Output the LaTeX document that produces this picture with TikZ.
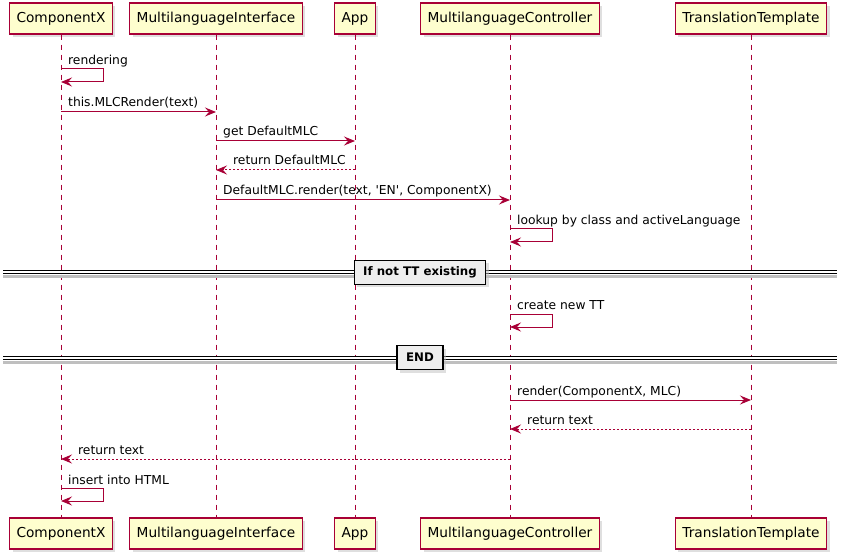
\documentclass[tikz,border=0pt]{standalone}
\usepackage{fontspec}
\setmainfont{DejaVu Sans}
\usepackage{tikz}
\usetikzlibrary{positioning, arrows.meta, shadows}

\definecolor{umlred}{HTML}{A80036}
\definecolor{umlfill}{HTML}{FEFECE}
\definecolor{divfill}{HTML}{EEEEEE}

\tikzset{
    actor/.style={draw=umlred, line width=1.4bp, fill=umlfill, minimum height=31bp,
        inner xsep=7bp, font=\fontsize{13.7bp}{16bp}\selectfont,
        drop shadow={shadow xshift=3bp, shadow yshift=-3bp, fill=black!25}},
    life/.style={draw=umlred, line width=0.8bp, dash pattern=on 5bp off 5bp},
    msg/.style={draw=umlred, line width=1bp, -{Stealth[length=11bp, width=9bp, inset=4bp]}},
    ret/.style={msg, dash pattern=on 2bp off 2bp},
    lbl/.style={anchor=base west, inner sep=0pt, font=\fontsize{12.3bp}{14bp}\selectfont},
    divbox/.style={draw=black, line width=1.4bp, fill=divfill, minimum height=24bp,
        inner xsep=9bp, font=\bfseries\fontsize{11.8bp}{14bp}\selectfont,
        drop shadow={shadow xshift=3bp, shadow yshift=-3bp, fill=black!25}},
    divline/.style={draw=black, line width=1bp, double=white, double distance=2bp},
    divshade/.style={draw=black!25, line width=3bp}
}

\begin{document}
\begin{tikzpicture}[x=1bp, y=-1bp]
        \useasboundingbox (0,0) rectangle (848,559);
        % participants
        \node[actor] (cx)  at (61,18.5)  {ComponentX};
        \node[actor] (mi)  at (216,18.5) {MultilanguageInterface};
        \node[actor] (app) at (355,18.5) {App};
        \node[actor] (mc)  at (510,18.5) {MultilanguageController};
        \node[actor] (tt)  at (751,18.5) {TranslationTemplate};
        \node[actor] (cxb)  at (61,533.5)  {ComponentX};
        \node[actor] (mib)  at (216,533.5) {MultilanguageInterface};
        \node[actor] (appb) at (355,533.5) {App};
        \node[actor] (mcb)  at (510,533.5) {MultilanguageController};
        \node[actor] (ttb)  at (751,533.5) {TranslationTemplate};
        \draw[life] (cx) -- (cxb);
        \draw[life] (mi) -- (mib);
        \draw[life] (app) -- (appb);
        \draw[life] (mc) -- (mcb);
        \draw[life] (tt) -- (ttb);
        % rows
        \coordinate (r1) at (0,69);
        \coordinate (r2) at (0,112);
        \coordinate (r3) at (0,141);
        \coordinate (r4) at (0,170);
        \coordinate (r5) at (0,200);
        \coordinate (r6) at (0,229);
        \coordinate (r8) at (0,314);
        \coordinate (r10) at (0,400);
        \coordinate (r11) at (0,429);
        \coordinate (r12) at (0,459);
        \coordinate (r13) at (0,488);
        % messages
        \draw[msg] (cx |- r1) -- ++(42,0) -- ++(0,13) -- ++(-42,0);
        \node[lbl] (m1) at ([xshift=7bp, yshift=4bp]cx |- r1) {rendering};
        \draw[msg] (cx |- r2) -- (mi |- r2);
        \node[lbl] (m2) at ([xshift=7bp, yshift=5bp]cx |- r2) {this.MLCRender(text)};
        \draw[msg] (mi |- r3) -- (app |- r3);
        \node[lbl] (m3) at ([xshift=7bp, yshift=5bp]mi |- r3) {get DefaultMLC};
        \draw[ret] (app |- r4) -- (mi |- r4);
        \node[lbl] (m4) at ([xshift=17bp, yshift=5bp]mi |- r4) {return DefaultMLC};
        \draw[msg] (mi |- r5) -- (mc |- r5);
        \node[lbl] (m5) at ([xshift=7bp, yshift=5bp]mi |- r5) {DefaultMLC.render(text, \textquotesingle EN\textquotesingle, ComponentX)};
        \draw[msg] (mc |- r6) -- ++(42,0) -- ++(0,13) -- ++(-42,0);
        \node[lbl] (m6) at ([xshift=7bp, yshift=4bp]mc |- r6) {lookup by class and activeLanguage};
        % dividers
        \coordinate (L) at (3,0);
        \coordinate (R) at (837,0);
        \coordinate (d1) at (420,272.5);
        \coordinate (d2) at (420,357.5);
        \draw[divshade] ([yshift=-4.5bp]L |- d1) -- ([yshift=-4.5bp]R |- d1);
        \draw[divline] (L |- d1) -- (R |- d1);
        \node[divbox] (div1) at (d1) {If not TT existing};
        \draw[msg] (mc |- r8) -- ++(42,0) -- ++(0,13) -- ++(-42,0);
        \node[lbl] (m8) at ([xshift=7bp, yshift=4bp]mc |- r8) {create new TT};
        \draw[divshade] ([yshift=-4.5bp]L |- d2) -- ([yshift=-4.5bp]R |- d2);
        \draw[divline] (L |- d2) -- (R |- d2);
        \node[divbox] (div2) at (d2) {END};
        \draw[msg] (mc |- r10) -- (tt |- r10);
        \node[lbl] (m10) at ([xshift=7bp, yshift=5bp]mc |- r10) {render(ComponentX, MLC)};
        \draw[ret] (tt |- r11) -- (mc |- r11);
        \node[lbl] (m11) at ([xshift=17bp, yshift=5bp]mc |- r11) {return text};
        \draw[ret] (mc |- r12) -- (cx |- r12);
        \node[lbl] (m12) at ([xshift=17bp, yshift=5bp]cx |- r12) {return text};
        \draw[msg] (cx |- r13) -- ++(42,0) -- ++(0,13) -- ++(-42,0);
        \node[lbl] (m13) at ([xshift=7bp, yshift=4bp]cx |- r13) {insert into HTML};
    \end{tikzpicture}
\end{document}
